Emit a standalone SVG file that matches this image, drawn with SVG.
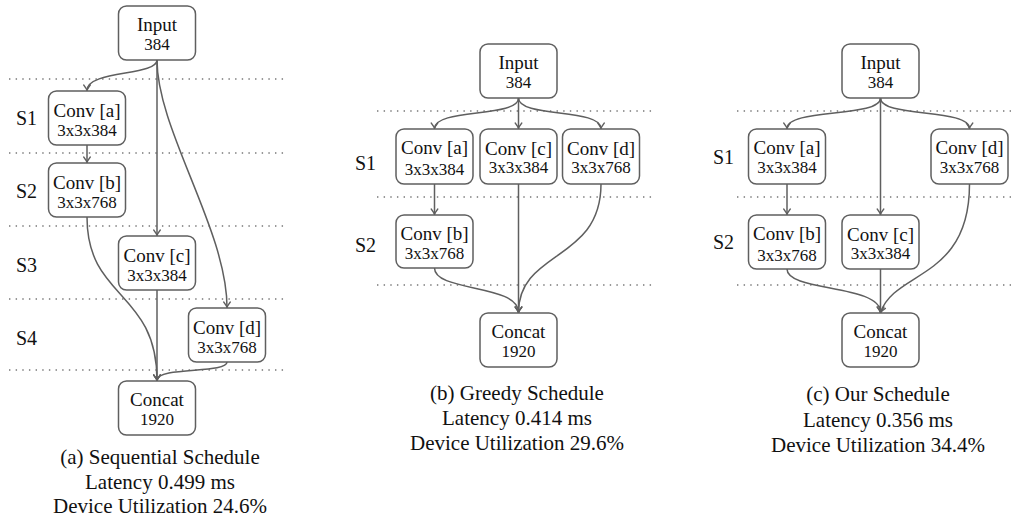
<svg xmlns="http://www.w3.org/2000/svg" width="1013" height="518" viewBox="0 0 1013 518" font-family="Liberation Serif, Times New Roman, DejaVu Serif, serif">
<style>
.box{fill:#fff;stroke:#5f5f5f;stroke-width:1.5}
.t{fill:#111;text-anchor:middle}
.n1{font-size:19px}
.n2{font-size:17px}
.lbl{fill:#111;font-size:20px}
.cap{fill:#111;font-size:21px;text-anchor:middle}
.dot{stroke:#777;stroke-width:1.4;stroke-dasharray:1.4 5.25;fill:none}
.e{fill:none;stroke:#5f5f5f;stroke-width:1.5;marker-end:url(#ah)}
</style>
<defs>
<marker id="ah" viewBox="-7 -5 8 10" refX="0" refY="0" markerWidth="8" markerHeight="10" markerUnits="userSpaceOnUse" orient="auto">
<path d="M-5.5,-3.3 Q-2,-0.6 0,0 Q-2,0.6 -5.5,3.3" fill="none" stroke="#5f5f5f" stroke-width="1.3" stroke-linecap="round"/>
</marker>
</defs>

<g id="separators">
<line class="dot" x1="9" y1="79" x2="287" y2="79"/>
<line class="dot" x1="9" y1="153" x2="287" y2="153"/>
<line class="dot" x1="9" y1="226" x2="287" y2="226"/>
<line class="dot" x1="9" y1="299" x2="287" y2="299"/>
<line class="dot" x1="9" y1="370" x2="287" y2="370"/>
<line class="dot" x1="377" y1="111" x2="655" y2="111"/>
<line class="dot" x1="377" y1="197" x2="655" y2="197"/>
<line class="dot" x1="377" y1="285" x2="655" y2="285"/>
<line class="dot" x1="737" y1="111" x2="1011" y2="111"/>
<line class="dot" x1="737" y1="197" x2="1011" y2="197"/>
<line class="dot" x1="737" y1="285" x2="1011" y2="285"/>
</g>

<g id="stage-labels">
<text class="lbl" x="16" y="125">S1</text>
<text class="lbl" x="16" y="198">S2</text>
<text class="lbl" x="16" y="272">S3</text>
<text class="lbl" x="16" y="345">S4</text>
<text class="lbl" x="355" y="170">S1</text>
<text class="lbl" x="355" y="252">S2</text>
<text class="lbl" x="713" y="164">S1</text>
<text class="lbl" x="713" y="249">S2</text>
</g>

<g id="connectors">
<path class="e" d="M157,60 C157,76 87,70 87,90.5"/>
<path class="e" d="M157,60 L157,235.5"/>
<path class="e" d="M157,60 C157,130 227,230 227,307.5"/>
<path class="e" d="M87,145 L87,162.5"/>
<path class="e" d="M87,217 C87,300 157,290 157,380.5"/>
<path class="e" d="M157,290 L157,380.5"/>
<path class="e" d="M227,362 C227,374 157,366 157,380.5"/>

<path class="e" d="M518.5,98 C518.5,118 434.5,108 434.5,128.5"/>
<path class="e" d="M518.5,98 L518.5,128.5"/>
<path class="e" d="M518.5,98 C518.5,118 601,108 601,128.5"/>
<path class="e" d="M434.5,184 L434.5,214.5"/>
<path class="e" d="M434.5,268 C434.5,292 518.5,284 518.5,312.5"/>
<path class="e" d="M518.5,184 L518.5,312.5"/>
<path class="e" d="M601,184 C601,262 518.5,250 518.5,312.5"/>

<path class="e" d="M880.5,98 C880.5,118 787,108 787,128.5"/>
<path class="e" d="M880.5,98 L880.5,214.5"/>
<path class="e" d="M880.5,98 C880.5,118 969.5,108 969.5,128.5"/>
<path class="e" d="M787,184 L787,214.5"/>
<path class="e" d="M787,269 C787,292 880.5,284 880.5,312.5"/>
<path class="e" d="M880.5,269 L880.5,312.5"/>
<path class="e" d="M969.5,184 C969.5,280 895,270 880.5,312.5"/>
</g>

<!-- Panel (a) -->
<g id="a-input"><rect class="box" x="118.5" y="6" width="77" height="54" rx="8"/><text class="t n1" x="157" y="31">Input</text><text class="t n2" x="157" y="50">384</text></g>
<g id="a-conv-a"><rect class="box" x="48.5" y="91" width="77" height="54" rx="8"/><text class="t n1" x="87" y="117">Conv [a]</text><text class="t n2" x="87" y="136">3x3x384</text></g>
<g id="a-conv-b"><rect class="box" x="48.5" y="163" width="77" height="54" rx="8"/><text class="t n1" x="87" y="189">Conv [b]</text><text class="t n2" x="87" y="208">3x3x768</text></g>
<g id="a-conv-c"><rect class="box" x="118.5" y="236" width="77" height="54" rx="8"/><text class="t n1" x="157" y="262">Conv [c]</text><text class="t n2" x="157" y="281">3x3x384</text></g>
<g id="a-conv-d"><rect class="box" x="188.5" y="308" width="77" height="54" rx="8"/><text class="t n1" x="227" y="334">Conv [d]</text><text class="t n2" x="227" y="353">3x3x768</text></g>
<g id="a-concat"><rect class="box" x="118.5" y="381" width="77" height="54" rx="8"/><text class="t n1" x="157" y="406">Concat</text><text class="t n2" x="157" y="425">1920</text></g>
<g id="a-caption">
<text class="cap" x="160" y="464">(a) Sequential Schedule</text>
<text class="cap" x="160" y="489">Latency 0.499 ms</text>
<text class="cap" x="160" y="513">Device Utilization 24.6%</text>
</g>

<!-- Panel (b) -->
<g id="b-input"><rect class="box" x="480" y="44" width="77" height="54" rx="8"/><text class="t n1" x="518.5" y="69">Input</text><text class="t n2" x="518.5" y="88">384</text></g>
<g id="b-conv-a"><rect class="box" x="396" y="129" width="77" height="55" rx="8"/><text class="t n1" x="434.5" y="154">Conv [a]</text><text class="t n2" x="434.5" y="175">3x3x384</text></g>
<g id="b-conv-c"><rect class="box" x="480" y="129" width="77" height="55" rx="8"/><text class="t n1" x="518.5" y="155">Conv [c]</text><text class="t n2" x="518.5" y="173">3x3x384</text></g>
<g id="b-conv-d"><rect class="box" x="562.5" y="129" width="77" height="55" rx="8"/><text class="t n1" x="601" y="155">Conv [d]</text><text class="t n2" x="601" y="173">3x3x768</text></g>
<g id="b-conv-b"><rect class="box" x="396" y="215" width="77" height="53" rx="8"/><text class="t n1" x="434.5" y="240">Conv [b]</text><text class="t n2" x="434.5" y="259">3x3x768</text></g>
<g id="b-concat"><rect class="box" x="480" y="313" width="77" height="54" rx="8"/><text class="t n1" x="518.5" y="338">Concat</text><text class="t n2" x="518.5" y="357">1920</text></g>
<g id="b-caption">
<text class="cap" x="517" y="400">(b) Greedy Schedule</text>
<text class="cap" x="517" y="425">Latency 0.414 ms</text>
<text class="cap" x="517" y="450">Device Utilization 29.6%</text>
</g>

<!-- Panel (c) -->
<g id="c-input"><rect class="box" x="842" y="44" width="77" height="54" rx="8"/><text class="t n1" x="880.5" y="69">Input</text><text class="t n2" x="880.5" y="88">384</text></g>
<g id="c-conv-a"><rect class="box" x="748.5" y="129" width="77" height="55" rx="8"/><text class="t n1" x="787" y="154">Conv [a]</text><text class="t n2" x="787" y="173">3x3x384</text></g>
<g id="c-conv-d"><rect class="box" x="931" y="129" width="77" height="55" rx="8"/><text class="t n1" x="969.5" y="154">Conv [d]</text><text class="t n2" x="969.5" y="173">3x3x768</text></g>
<g id="c-conv-b"><rect class="box" x="748.5" y="215" width="77" height="54" rx="8"/><text class="t n1" x="787" y="240">Conv [b]</text><text class="t n2" x="787" y="261">3x3x768</text></g>
<g id="c-conv-c"><rect class="box" x="842" y="215" width="77" height="54" rx="8"/><text class="t n1" x="880.5" y="241">Conv [c]</text><text class="t n2" x="880.5" y="259">3x3x384</text></g>
<g id="c-concat"><rect class="box" x="842" y="313" width="77" height="54" rx="8"/><text class="t n1" x="880.5" y="338">Concat</text><text class="t n2" x="880.5" y="357">1920</text></g>
<g id="c-caption">
<text class="cap" x="878" y="401">(c) Our Schedule</text>
<text class="cap" x="878" y="427">Latency 0.356 ms</text>
<text class="cap" x="878" y="452">Device Utilization 34.4%</text>
</g>
</svg>
